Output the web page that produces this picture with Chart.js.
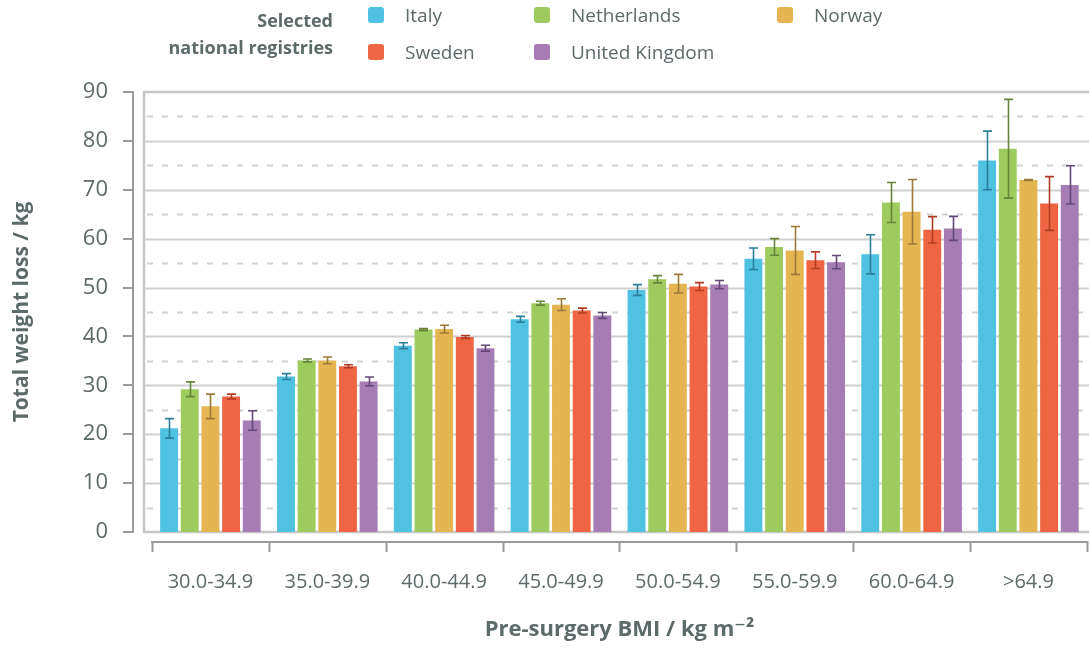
<!DOCTYPE html>
<html>
<head>
<meta charset="utf-8">
<script src="https://cdn.jsdelivr.net/npm/chart.js@4.4.1/dist/chart.umd.min.js"></script>
<style>
html,body{margin:0;padding:0;background:#fff;overflow:hidden;width:1089px;height:648px;}
#wrap{position:absolute;left:0;top:0;width:1092px;height:648px;}
#legend{position:absolute;left:0;top:0;width:1089px;height:80px;font-family:'Open Sans','DejaVu Sans',sans-serif;color:#5d6a6a;}
#legend .ttl{position:absolute;right:756px;text-align:right;font-weight:bold;font-size:18px;line-height:20px;white-space:nowrap;}
#legend .item{position:absolute;height:20px;line-height:20px;font-size:19px;white-space:nowrap;}
#legend .sw{position:absolute;width:16px;height:16px;border-radius:3px;}
</style>
</head>
<body>
<div id="wrap"><canvas id="c"></canvas></div>
<div id="legend"></div>
<script>
const categories = ['30.0-34.9','35.0-39.9','40.0-44.9','45.0-49.9','50.0-54.9','55.0-59.9','60.0-64.9','>64.9'];
const seriesNames = ['Italy','Netherlands','Norway','Sweden','United Kingdom'];

const italy       = [21.2, 31.8, 38.1, 43.5, 49.5, 55.9, 56.8, 76.0];
const netherlands = [29.2, 35.1, 41.4, 46.8, 51.7, 58.3, 67.4, 78.4];
const norway      = [25.7, 35.1, 41.5, 46.5, 50.8, 57.6, 65.5, 72.0];
const sweden      = [27.7, 33.9, 39.9, 45.3, 50.2, 55.6, 61.8, 67.2];
const uk          = [22.8, 30.8, 37.6, 44.3, 50.6, 55.2, 62.1, 71.0];

const italyErr       = [2.0, 0.6, 0.6, 0.6, 1.1, 2.2, 4.0, 6.0];
const netherlandsErr = [1.5, 0.3, 0.2, 0.4, 0.75, 1.7, 4.1, 10.1];
const norwayErr      = [2.5, 0.7, 0.8, 1.2, 1.9, 4.9, 6.6, 0.1];
const swedenErr      = [0.5, 0.3, 0.3, 0.5, 0.8, 1.7, 2.7, 5.5];
const ukErr          = [2.0, 0.9, 0.6, 0.6, 0.85, 1.35, 2.45, 3.9];

const yTicks = [0,10,20,30,40,50,60,70,80,90];

const barColors = ['#4fc1e1','#9ecb5d','#e5b552','#ef6543','#a67cb4'];
const errColors = ['#2b7f98','#66843a','#9a7a38','#b03c24','#634878'];

const values = [italy, netherlands, norway, sweden, uk];
const errors = [italyErr, netherlandsErr, norwayErr, swedenErr, ukErr];

const FONT = "'Open Sans','DejaVu Sans',sans-serif";
const TXT = '#5d6a6a';

const decor = {
  id: 'decor',
  beforeDatasetsDraw(chart) {
    const {ctx, chartArea: a, scales: {y}} = chart;
    const left = a.left - 8, right = chart.width;
    const top = y.getPixelForValue(90), bot = y.getPixelForValue(0);
    ctx.save();
    for (let v = 5; v < 90; v += 5) {
      const py = Math.round(y.getPixelForValue(v)) + 0.5;
      ctx.beginPath();
      if (v % 10 === 0) {
        ctx.setLineDash([]);
        ctx.strokeStyle = '#cfcfcf';
        ctx.lineWidth = 2;
        ctx.moveTo(left, py); ctx.lineTo(right, py);
      } else {
        ctx.setLineDash([6, 9]);
        ctx.strokeStyle = '#d2d2d2';
        ctx.lineWidth = 2;
        ctx.moveTo(left + 3, py); ctx.lineTo(right, py);
      }
      ctx.stroke();
    }
    ctx.setLineDash([]);
    ctx.strokeStyle = '#c6c6c6';
    ctx.lineWidth = 2.5;
    ctx.beginPath();
    ctx.moveTo(right, top); ctx.lineTo(left, top); ctx.lineTo(left, bot); ctx.lineTo(right, bot);
    ctx.stroke();
    ctx.restore();
  },
  afterDatasetsDraw(chart) {
    const {ctx, scales: {y}} = chart;
    ctx.save();
    chart.data.datasets.forEach((ds, i) => {
      const meta = chart.getDatasetMeta(i);
      const err = errors[i];
      ctx.strokeStyle = errColors[i];
      ctx.lineWidth = 1.6;
      meta.data.forEach((bar, j) => {
        const v = ds.data[j], e = err[j];
        const x = Math.round(bar.x) + 0.5;
        const y1 = y.getPixelForValue(v + e), y2 = y.getPixelForValue(v - e);
        ctx.beginPath();
        ctx.moveTo(x, y1); ctx.lineTo(x, y2);
        ctx.moveTo(x - 4.5, y1); ctx.lineTo(x + 4.5, y1);
        ctx.moveTo(x - 4.5, y2); ctx.lineTo(x + 4.5, y2);
        ctx.stroke();
      });
    });
    ctx.restore();
  },
  afterDraw(chart) {
    const {ctx, chartArea: a, scales: {x, y}} = chart;
    ctx.save();
    ctx.strokeStyle = '#9a9a9a';
    ctx.lineWidth = 2;
    // y axis
    const ax = a.left - 19;
    ctx.beginPath();
    ctx.moveTo(ax, y.getPixelForValue(90)); ctx.lineTo(ax, y.getPixelForValue(0));
    yTicks.forEach(v => {
      const py = Math.round(y.getPixelForValue(v));
      ctx.moveTo(ax - 10, py); ctx.lineTo(ax + 1, py);
    });
    ctx.stroke();
    // x axis
    const ay = a.bottom + 10;
    ctx.beginPath();
    ctx.moveTo(a.left - 1, ay); ctx.lineTo(a.right, ay);
    const n = categories.length;
    for (let k = 0; k <= n; k++) {
      const px = Math.round(x.left + (x.width) * k / n) + 0.5;
      ctx.moveTo(px, ay - 1); ctx.lineTo(px, ay + 10);
    }
    ctx.stroke();
    ctx.restore();
  }
};

const chart = new Chart(document.getElementById('c'), {
  type: 'bar',
  data: {
    labels: categories,
    datasets: seriesNames.map((name, i) => ({
      label: name,
      data: values[i],
      backgroundColor: barColors[i],
      borderWidth: 0,
      categoryPercentage: 0.884,
      barPercentage: 0.867
    }))
  },
  options: {
    responsive: true,
    maintainAspectRatio: false,
    animation: false,
    layout: { padding: { top: 92, right: 1, bottom: 0, left: 0 } },
    plugins: { legend: { display: false }, tooltip: { enabled: false } },
    scales: {
      x: {
        grid: { display: false, drawTicks: false },
        border: { display: false },
        afterFit(s) { s.height = 116; },
        ticks: { color: TXT, font: { family: FONT, size: 20 }, padding: 38, maxRotation: 0, autoSkip: false },
        title: { display: true, text: 'Pre-surgery BMI / kg m\u207B\u00B2', color: TXT,
          font: { family: FONT, size: 22, weight: 'bold' }, padding: { top: 0, bottom: 5 } }
      },
      y: {
        min: 0, max: 90,
        afterFit(s) { s.width = 152; },
        grid: { display: false, drawTicks: false },
        border: { display: false },
        ticks: { stepSize: 10, color: TXT, font: { family: FONT, size: 22 }, padding: 44 },
        title: { display: true, text: 'Total weight loss / kg', color: TXT,
          font: { family: FONT, size: 21, weight: 'bold' }, padding: { top: 9, bottom: 0 } }
      }
    }
  },
  plugins: [decor]
});

// legend built from the chart's datasets
const lg = document.getElementById('legend');
const t1 = document.createElement('div'); t1.className = 'ttl'; t1.style.top = '10px'; t1.textContent = 'Selected'; lg.appendChild(t1);
const t2 = document.createElement('div'); t2.className = 'ttl'; t2.style.top = '37px'; t2.textContent = 'national registries'; lg.appendChild(t2);
const legendPos = [[368,7,405],[534,7,571],[777,7,814],[368,44,405],[534,44,571]];
chart.data.datasets.forEach((ds, i) => {
  const [lx, ly, tx] = legendPos[i];
  const sw = document.createElement('div'); sw.className = 'sw';
  sw.style.left = lx + 'px'; sw.style.top = ly + 'px'; sw.style.background = ds.backgroundColor;
  lg.appendChild(sw);
  const it = document.createElement('div'); it.className = 'item';
  it.style.left = tx + 'px'; it.style.top = (ly - 2) + 'px'; it.textContent = ds.label;
  lg.appendChild(it);
});
</script>
</body>
</html>
